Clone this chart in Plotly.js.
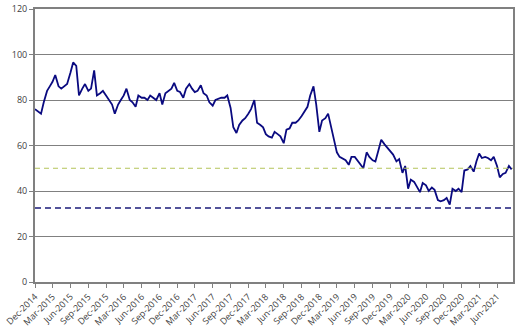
<!DOCTYPE html>
<html>
<head>
<meta charset="utf-8">
<script src="https://cdn.plot.ly/plotly-3.0.1.min.js"></script>
<style>html,body{margin:0;padding:0;background:#fff;}#chart{width:521px;height:328px;}</style>
</head>
<body>
<div id="chart"></div>
<script>
// Semi-monthly observations starting 1 Dec 2014 (1st and 15th of each month)
var startYear = 2014, startMonth = 12;
var values = [
76, 75, 74, 79, 84, 86, 88, 91, 86, 85, 86, 87, 92, 96.5, 95, 82,
85, 87, 84, 85, 93, 82, 83, 84, 82, 80, 78, 74, 78, 80, 82, 85,
80, 79, 77, 82, 81, 81, 80, 82, 81, 80, 83, 78, 83, 84, 85, 87.5,
84, 83.5, 81, 85, 87, 85, 83.5, 84, 86.5, 83, 82, 79, 77.5, 80, 80.5, 81,
81, 82, 76.5, 68, 65.5, 69, 71, 72, 74, 76, 80, 70, 69, 68, 65, 64,
63.5, 66, 65, 64, 61, 67, 67.5, 70, 70, 71, 73, 75, 77, 82, 86, 78,
66, 71, 72, 74, 68, 63, 57, 55, 54, 53.5, 51.5, 55, 55, 53.5, 52, 50,
57, 55, 53.5, 53, 58, 62.5, 60.5, 59, 57, 56, 53, 54, 48, 51, 41, 45,
44, 42, 39.5, 43.5, 42.5, 40, 41.5, 40.5, 36, 35.5, 36, 37, 34, 41, 40, 41,
39.5, 49, 49.5, 51, 48.5, 53, 56.5, 54.5, 55, 54.5, 53.5, 55, 51, 46, 47.5, 48,
51, 49.5
];
var upperLevel = 50;
var lowerLevel = 32.5;
var xStart = '2014-12-01';
var xEnd = '2021-08-22';

function pad(n){return (n<10?'0':'')+n;}
var dates = [];
for (var i = 0; i < values.length; i++) {
  var mIdx = Math.floor(i/2);
  var y = startYear + Math.floor((startMonth - 1 + mIdx)/12);
  var m = ((startMonth - 1 + mIdx) % 12) + 1;
  var d = (i % 2 === 0) ? 1 : 15;
  dates.push(y + '-' + pad(m) + '-' + pad(d));
}

var trace = {
  x: dates, y: values, type: 'scatter', mode: 'lines',
  line: {color: '#0a0a80', width: 1.8},
  hoverinfo: 'skip'
};

var layout = {
  width: 521, height: 328,
  margin: {l: 35, r: 8, t: 9, b: 46},
  paper_bgcolor: '#ffffff', plot_bgcolor: '#ffffff',
  showlegend: false,
  font: {family: 'Open Sans, sans-serif', size: 9, color: '#404040'},
  xaxis: {
    type: 'date',
    range: [xStart, xEnd],
    tick0: '2014-12-01', dtick: 'M3', tickformat: '%b-%Y',
    tickangle: -45,
    showgrid: false,
    ticks: 'outside', ticklen: 4, tickcolor: '#808080',
    showline: true, linecolor: '#808080', linewidth: 2, mirror: true,
    zeroline: false,
    tickfont: {family: 'Open Sans, sans-serif', size: 9, color: '#404040'}
  },
  yaxis: {
    range: [0, 120], dtick: 20,
    showgrid: true, gridcolor: '#808080', gridwidth: 1,
    ticks: 'outside', ticklen: 4, tickcolor: '#808080',
    showline: true, linecolor: '#808080', linewidth: 2, mirror: true,
    zeroline: false,
    tickfont: {family: 'Open Sans, sans-serif', size: 9, color: '#404040'}
  },
  shapes: [
    {type: 'line', xref: 'paper', x0: 0, x1: 1, yref: 'y', y0: upperLevel, y1: upperLevel,
     line: {color: '#b4c45a', width: 1, dash: '5px,4px'}},
    {type: 'line', xref: 'paper', x0: 0, x1: 1, yref: 'y', y0: lowerLevel, y1: lowerLevel,
     line: {color: '#1a1a7a', width: 1.6, dash: '6px,4px'}}
  ]
};

Plotly.newPlot('chart', [trace], layout, {staticPlot: true, displayModeBar: false});
</script>
</body>
</html>
